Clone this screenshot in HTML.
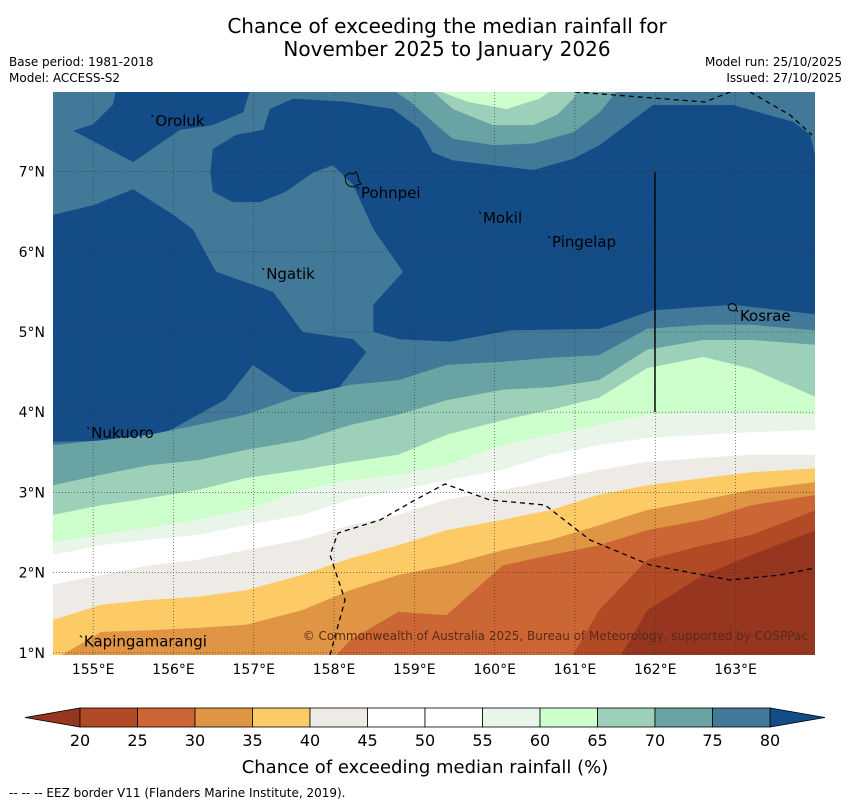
<!DOCTYPE html>
<html><head><meta charset="utf-8">
<style>
body{margin:0;background:#fff;}
svg{display:block;font-family:"DejaVu Sans","Liberation Sans",sans-serif;}
</style></head>
<body>
<svg id="chart" width="850" height="804" viewBox="0 0 850 804">
<text x="447" y="33" font-size="20" text-anchor="middle">Chance of exceeding the median rainfall for</text>
<text x="447" y="56" font-size="20" text-anchor="middle">November 2025 to January 2026</text>
<text x="9" y="66" font-size="12">Base period: 1981-2018</text>
<text x="9" y="82" font-size="12">Model: ACCESS-S2</text>
<text x="842" y="66" font-size="12" text-anchor="end">Model run: 25/10/2025</text>
<text x="842" y="82" font-size="12" text-anchor="end">Issued: 27/10/2025</text>
<defs><clipPath id="mapclip"><rect x="53" y="92" width="762" height="563"/></clipPath></defs>
<g id="map" clip-path="url(#mapclip)"></g>
<g id="overlay"></g>
<text x="9" y="797" font-size="12">-- -- -- EEZ border V11 (Flanders Marine Institute, 2019).</text>
</svg>
<script>
// ---- data ----
const lons = [154.5,155.1,155.7,156.3,156.9,157.6,158.2,158.8,159.4,160.1,160.7,161.3,161.9,162.6,163.2,164.0];
const b75 = [3.59,3.65,3.72,3.84,3.97,4.21,4.34,4.40,4.59,4.63,4.68,4.71,5.04,5.09,5.09,5.02];
const b70 = [3.09,3.22,3.34,3.40,3.53,3.65,3.84,3.97,4.15,4.28,4.31,4.40,4.78,4.90,4.90,4.84];
const b65 = [2.72,2.84,2.93,3.03,3.18,3.28,3.38,3.47,3.72,3.90,4.03,4.18,4.55,4.69,4.54,4.19];
const b60 = [2.38,2.47,2.56,2.66,2.78,3.03,3.15,3.22,3.34,3.59,3.72,3.84,3.97,4.00,4.00,3.97];
const b55 = [2.22,2.34,2.41,2.47,2.59,2.72,2.91,3.03,3.15,3.28,3.47,3.59,3.68,3.72,3.75,3.78];
const b45 = [1.85,1.97,2.09,2.16,2.28,2.41,2.59,2.72,2.91,3.03,3.15,3.28,3.38,3.43,3.47,3.47];
const b40 = [1.41,1.60,1.66,1.70,1.78,1.97,2.18,2.34,2.53,2.66,2.78,2.97,3.09,3.18,3.25,3.30];
const b35 = [0.91,1.26,1.28,1.31,1.35,1.53,1.78,1.97,2.09,2.28,2.41,2.59,2.78,2.91,3.03,3.13];
const b30 = [0.5,0.5,0.5,0.5,0.5,0.5,1.16,1.51,1.47,2.09,2.22,2.34,2.53,2.66,2.84,2.97];
const b25 = [0.5,0.5,0.5,0.5,0.5,0.5,0.5,0.5,0.5,0.5,0.5,1.53,2.16,2.34,2.47,2.78];
const b20 = [0.5,0.5,0.5,0.5,0.5,0.5,0.5,0.5,0.5,0.5,0.5,0.5,1.53,1.97,2.22,2.53];
const levels = [20,25,30,35,40,45,50,55,60,65,70,75,80];
const colors = ["#963520","#b24a25","#cc6634","#e09545","#fdcb66","#eeeae6","#ffffff","#ffffff","#eaf5ea","#ccffcc","#9dd0b8","#6aa3a3","#427999","#134c87"];
const xTicks = [155,156,157,158,159,160,161,162,163];
const yTicks = [1,2,3,4,5,6,7];
// dark-blue (>80) regions as lon/lat outlines
const darkMainLon = [156.46,156.49,156.78,157.12,157.20,157.49,158.15,158.73,159.07,159.23,159.48,160.48,160.98,161.31,161.97,162.97,163.72,163.93,164.0,164.0,162.97,161.97,161.31,160.19,159.44,158.82,158.49,158.49,158.86,158.49,158.24,157.99,157.74,157.40,157.08,156.74,156.49];
const darkMainLat = [6.99,7.28,7.46,7.52,7.78,7.91,7.87,7.78,7.53,7.24,7.14,7.02,7.16,7.33,7.83,7.83,7.62,7.46,7.16,5.22,5.34,5.27,5.04,5.02,4.88,4.91,5.00,5.34,5.75,6.28,6.83,7.08,6.99,6.75,6.62,6.62,6.75];
const darkNWLon = [154.75,155.0,155.25,155.28,156.95,156.87,156.49,156.08,155.5];
const darkNWLat = [7.51,7.59,7.84,8.0,8.0,7.74,7.58,7.52,7.12];
const darkLeftLon = [154.5,155.0,155.5,156.0,156.24,156.53,156.99,157.24,157.61,158.24,158.40,158.02,157.49,156.99,156.65,155.75,154.5];
const darkLeftLat = [6.46,6.58,6.78,6.46,6.28,5.75,5.59,5.50,5.0,4.91,4.75,4.25,4.25,4.59,4.16,3.66,3.63];
// top bulge (lower chance from north)
const topLon70 = [158.76,158.95,159.23,159.48,159.98,160.48,160.98,161.31,161.52];
const topLat70 = [8.0,7.87,7.62,7.41,7.33,7.35,7.49,7.74,8.0];
const topLon65 = [159.23,159.48,159.98,160.48,160.78,160.98,161.03];
const topLat65 = [8.0,7.78,7.58,7.58,7.71,7.91,8.0];
const topLon60 = [159.32,159.66,160.15,160.56,160.69];
const topLat60 = [8.0,7.87,7.78,7.91,8.0];
const islandNames = ["Oroluk","Pohnpei","Mokil","Pingelap","Ngatik","Kosrae","Nukuoro","Kapingamarangi"];
const islandLon = [155.75,158.31,159.83,160.69,157.13,163.03,154.95,154.86];
const islandLat = [7.67,6.77,6.46,6.16,5.76,5.24,3.78,1.18];
// ---- axes ----
const X = lon => 53 + (lon-154.5)*80.3;
const Y = lat => 733 - lat*80.2;
const NS = "http://www.w3.org/2000/svg";
const map = document.getElementById('map');
const ov = document.getElementById('overlay');
function mk(tag, attrs, parent){const e=document.createElementNS(NS,tag);for(const k in attrs)e.setAttribute(k,attrs[k]);parent.appendChild(e);return e;}
function polyPts(ls, la){return ls.map((l,i)=>X(l).toFixed(1)+','+Y(la[i]).toFixed(1)).join(' ');}
let bg = mk('rect',{x:53,y:92,width:762,height:563,fill:colors[12]},map);


let d1 = mk('polygon',{points:polyPts(darkMainLon,darkMainLat),fill:colors[13]},map);


let d3 = mk('polygon',{points:polyPts(darkNWLon,darkNWLat),fill:colors[13]},map);


let d2 = mk('polygon',{points:polyPts(darkLeftLon,darkLeftLat),fill:colors[13]},map);


[[topLon70,topLat70,11,'top-70-75'],[topLon65,topLat65,10,'top-65-70'],[topLon60,topLat60,9,'top-60-65']].forEach(t=>{
  const p = mk('polygon',{points:polyPts(t[0],t[1]),fill:colors[t[2]]},map);
  
  
});
const bands = [[b75,11,'70-75'],[b70,10,'65-70'],[b65,9,'60-65'],[b60,8,'55-60'],[b55,6,'45-55'],[b45,5,'40-45'],[b40,4,'35-40'],[b35,3,'30-35'],[b30,2,'25-30'],[b25,1,'20-25'],[b20,0,'below-20']];
bands.forEach(b=>{
  const pts = polyPts(lons,b[0]) + ' ' + X(164)+','+Y(0) + ' ' + X(154.5)+','+Y(0);
  const p = mk('polygon',{points:pts,fill:colors[b[1]]},map);
  
  
});
xTicks.forEach(t=>{
  const l = mk('line',{x1:X(t),x2:X(t),y1:92,y2:655,stroke:'#333','stroke-width':0.6,'stroke-dasharray':'1,2'},ov);
  
  
  const tx = mk('text',{x:X(t),y:674,'font-size':14,'text-anchor':'middle'},ov);
  tx.textContent = t+'°E';
  
  
});
yTicks.forEach(t=>{
  const l = mk('line',{x1:53,x2:815,y1:Y(t),y2:Y(t),stroke:'#333','stroke-width':0.6,'stroke-dasharray':'1,2'},ov);
  
  
  const tx = mk('text',{x:45,y:Y(t)+5,'font-size':14,'text-anchor':'end'},ov);
  tx.textContent = t+'°N';
  
  
});
const eez1 = "330,655 345,600 330,555 338,533 380,520 415,500 445,484 490,500 545,505 590,540 650,565 730,580 780,575 815,568";
const eez2 = "575,92 705,102 740,88";
const eez3 = "750,92 790,115 812,135";
[eez1,eez2,eez3].forEach((p,i)=>{
  const e = mk('polyline',{points:p,fill:'none',stroke:'#000','stroke-width':1.3,'stroke-dasharray':'5,4'},map);
  
  
});
const vl = mk('line',{x1:655,x2:655,y1:172,y2:412,stroke:'#000','stroke-width':1.5},map);


islandNames.forEach((n,i)=>{
  const x=X(islandLon[i]), y=Y(islandLat[i]);
  const m = mk('path',{d:`M${x-2},${y-3} l2,2`,stroke:'#000','stroke-width':1,fill:'none'},ov);
  
  
  const t = mk('text',{x:x+2,y:y+8,'font-size':15},ov);
  t.textContent=n;
  
  
});
const pohn = mk('path',{d:'M345,176 l4,-3 l4,1 l3,-2 l2,4 l1,5 l2,3 l-4,1 l-3,2 l-5,-1 l-3,-3 z',fill:'none',stroke:'#000','stroke-width':1},ov);


const kos = mk('path',{d:'M728,306 q4,-5 8,0 q2,4 -3,5 q-4,0 -5,-5z',fill:'none',stroke:'#000','stroke-width':1},ov);


const cp = mk('text',{x:808,y:640,'font-size':12,'text-anchor':'end',fill:'#5a2a18'},ov);
cp.textContent='© Commonwealth of Australia 2025, Bureau of Meteorology, supported by COSPPac';


const cbX0=80, cbX1=770, cbY=708, cbH=19;
const segW=(cbX1-cbX0)/(levels.length-1);
const la = mk('polygon',{points:`${cbX0},${cbY} ${cbX0},${cbY+cbH} 25,${cbY+cbH/2}`,fill:colors[0],stroke:'#000','stroke-width':0.8},ov);


const ra = mk('polygon',{points:`${cbX1},${cbY} ${cbX1},${cbY+cbH} 825,${cbY+cbH/2}`,fill:colors[13],stroke:'#000','stroke-width':0.8},ov);


for(let i=0;i<levels.length-1;i++){
  const r = mk('rect',{x:cbX0+i*segW,y:cbY,width:segW,height:cbH,fill:colors[i+1],stroke:'#000','stroke-width':0.8},ov);
  
  
}
levels.forEach((v,i)=>{
  const t = mk('text',{x:cbX0+i*segW,y:746,'font-size':16,'text-anchor':'middle'},ov);
  t.textContent=v;
  
  
});
const cl = mk('text',{x:425,y:773,'font-size':18,'text-anchor':'middle'},ov);
cl.textContent='Chance of exceeding median rainfall (%)';


</script>
</body></html>
